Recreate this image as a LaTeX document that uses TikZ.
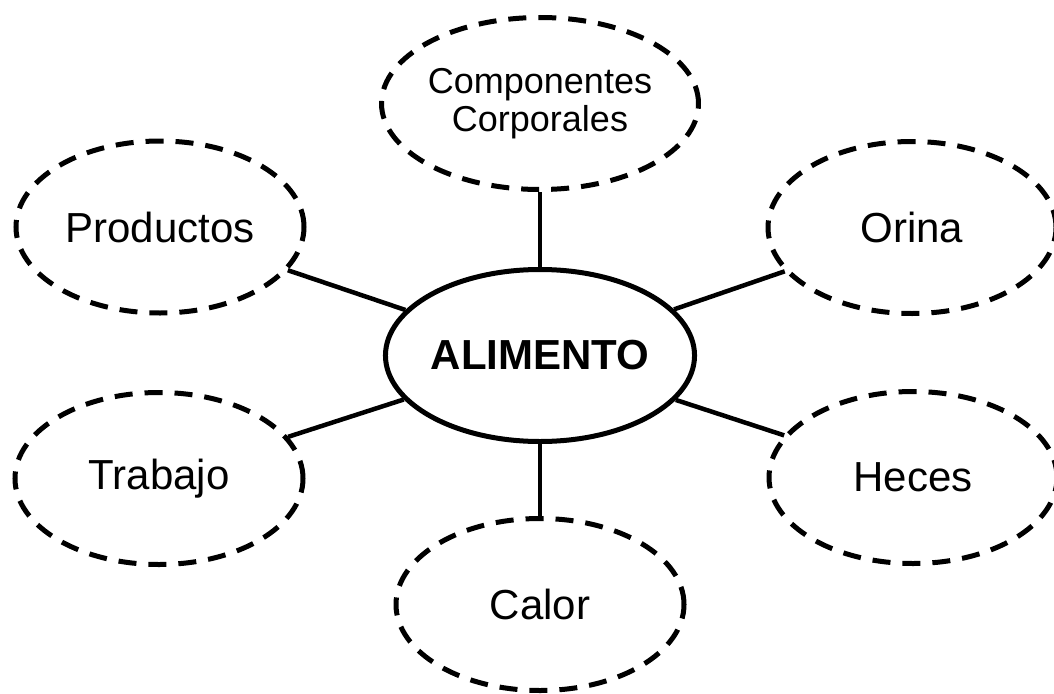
\documentclass[tikz,border=0pt]{standalone}
\usepackage{fontspec}
\setmainfont{Liberation Sans}
\usetikzlibrary{shapes.geometric}
\begin{document}
\begin{tikzpicture}[x=1pt,y=-1pt,
  bubble/.style={ellipse, draw, line width=5pt, dash pattern=on 18pt off 12pt,
    minimum width=288pt, minimum height=172pt, inner sep=0pt,
    font=\fontsize{42}{46}\selectfont},
  hub/.style={ellipse, draw, line width=5pt, minimum width=286pt, minimum height=172pt,
    inner sep=0pt, font=\bfseries\fontsize{42}{46}\selectfont},
  link/.style={line width=4.5pt}]
\useasboundingbox (0,0) rectangle (1054,693);
\fill[white] (0,0) rectangle (1054,693);
\clip (0,0) rectangle (1054,693);
\node[hub] (al) at (540,355.5) {ALIMENTO};
\node[bubble, align=center, font=\fontsize{36}{38}\selectfont] (cc) at (540,103.5) {Componentes\\Corporales};
\node[bubble] (pr) at (160,227) {Productos};
\node[bubble] (or) at (912,227.5) {Orina};
\node[bubble] (tr) at (159,478.5) {Trabajo};
\node[bubble] (he) at (913,477.5) {Heces};
\node[bubble] (ca) at (540,604.5) {Calor};
\draw[link] (cc) -- (al);
\draw[link] (pr) -- (al);
\draw[link] (or) -- (al);
\draw[link] (tr) -- (al);
\draw[link] (he) -- (al);
\draw[link] (ca) -- (al);
\end{tikzpicture}
\end{document}
